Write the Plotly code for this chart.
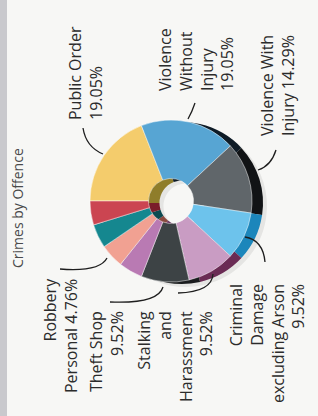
import plotly.graph_objects as go

# ---- data ----
offences = ["Public Order", "Violence Without Injury", "Violence With Injury",
            "Criminal Damage excluding Arson", "Stalking and Harassment", "Theft Shop",
            "Other offence A", "Robbery Personal", "Other offence B", "Other offence C"]
counts = [4, 4, 3, 2, 2, 2, 1, 1, 1, 1]
front_colors = ["#f4cc6c", "#57a5d3", "#60666a", "#6dc3ec", "#c99cc3", "#3d4345",
                "#b97ab3", "#f1a192", "#15878f", "#cb4551"]
side_colors = ["#8f7d2a", "#0e1b26", "#111315", "#1c86bb", "#6a2b54", "#1a1c1e",
               "#6a3560", "#8a4a40", "#0b4a50", "#7a1e2a"]
title_text = "Crimes by Offence"

W, H = 318, 416
total = sum(counts)
pct = {o: f"{c / total * 100:.2f}%" for o, c in zip(offences, counts)}

# pie geometry (pixels)
cx, cy, R = 171, 201, 81
dx, dy = 11, 2
hole = 0.278


def dom(x, y):
    return dict(x=[(x - R) / W, (x + R) / W], y=[(H - y - R) / H, (H - y + R) / H])


fig = go.Figure()
# soft shadow
fig.add_trace(go.Pie(values=counts, labels=offences, sort=False, direction="clockwise",
                     rotation=270, hole=hole, domain=dom(cx + dx + 4, cy + dy + 3),
                     marker=dict(colors=["rgba(0,0,0,0.07)"] * len(counts)),
                     textinfo="none", hoverinfo="skip", showlegend=False))
# side (depth) layer
fig.add_trace(go.Pie(values=counts, labels=offences, sort=False, direction="clockwise",
                     rotation=270, hole=hole, domain=dom(cx + dx, cy + dy),
                     marker=dict(colors=side_colors, line=dict(width=0)),
                     textinfo="none", hoverinfo="skip", showlegend=False))
# front face
fig.add_trace(go.Pie(values=counts, labels=offences, sort=False, direction="clockwise",
                     rotation=270, hole=hole, domain=dom(cx, cy),
                     marker=dict(colors=front_colors,
                                 line=dict(color="rgba(255,255,255,0.6)", width=0.8)),
                     textinfo="none", showlegend=False))

# dummy scatter to activate pixel-based axes
fig.add_trace(go.Scatter(x=[0, W], y=[0, H], mode="markers",
                         marker=dict(opacity=0), hoverinfo="skip", showlegend=False))

font = dict(family="Open Sans, Noto Sans, sans-serif", size=16, color="#2b2b2b")
labels = [
    ("Public Order<br>" + pct["Public Order"], 85, 73, "left"),
    ("Violence<br>Without<br>Injury<br>" + pct["Violence Without Injury"], 196, 60, "left"),
    ("Violence With<br>Injury " + pct["Violence With Injury"], 277, 86, "left"),
    ("Robbery<br>Personal " + pct["Robbery Personal"], 60, 336, "right"),
    ("Theft Shop<br>" + pct["Theft Shop"], 106, 352, "right"),
    ("Stalking<br>and<br>Harassment<br>" + pct["Stalking and Harassment"], 175, 357, "right"),
    ("Criminal<br>Damage<br>excluding Arson<br>" + pct["Criminal Damage excluding Arson"], 267, 344, "right"),
]
for txt, x, y, al in labels:
    fig.add_annotation(x=x, y=y, xref="x", yref="y", text=txt, showarrow=False,
                       textangle=-90, xanchor="center", yanchor="middle", align=al, font=font)

fig.add_annotation(x=17, y=208, xref="x", yref="y", text=title_text, showarrow=False,
                   textangle=-90, xanchor="center", yanchor="middle",
                   font=dict(family="Open Sans, Noto Sans, sans-serif", size=14, color="#4a4a4a"))

# leader lines
leaders = [
    "M 83 128 Q 86 147 103 154",
    "M 195 103 Q 192 112 188 119",
    "M 276 150 Q 271 166 258 170",
    "M 245 237 Q 263 240 265 262",
    "M 213 274 Q 212 292 178 293",
    "M 163 287 Q 158 304 110 302",
    "M 107 258 Q 100 272 60 269",
]
shapes = [dict(type="path", path=p, xref="x", yref="y",
               line=dict(color="#1e1e1e", width=1.3)) for p in leaders]
shapes.append(dict(type="rect", xref="x", yref="y", x0=0, x1=7, y0=0, y1=H,
                   fillcolor="#c9c9cd", line=dict(width=0), layer="below"))

fig.update_layout(
    width=W, height=H, margin=dict(l=0, r=0, t=0, b=0),
    paper_bgcolor="#f7f7f5", plot_bgcolor="rgba(0,0,0,0)",
    xaxis=dict(range=[0, W], visible=False, fixedrange=True),
    yaxis=dict(range=[H, 0], visible=False, fixedrange=True),
    shapes=shapes, showlegend=False,
)
fig.write_html("out.html", config={"displayModeBar": False},
               post_script="document.body.style.margin='0';document.body.style.overflow='hidden';")
